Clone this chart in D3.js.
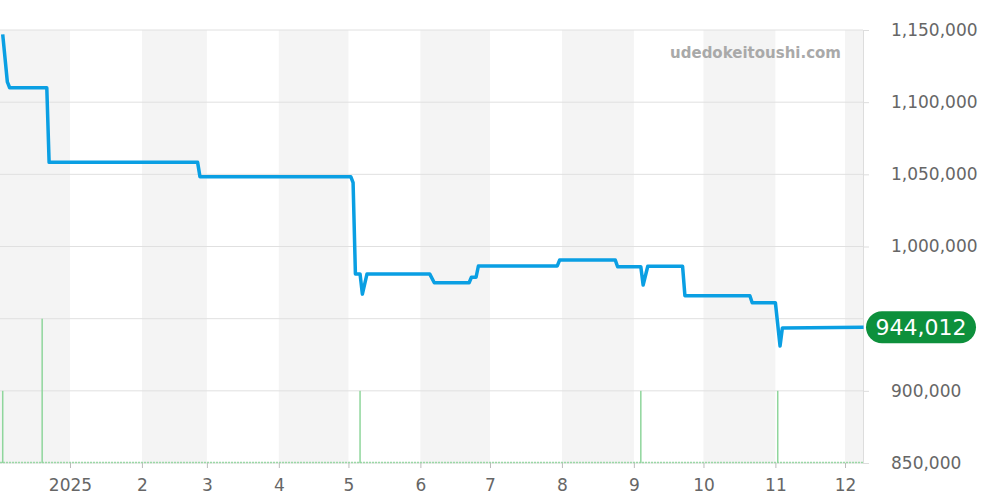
<!DOCTYPE html>
<html>
<head>
<meta charset="utf-8">
<script src="https://d3js.org/d3.v7.min.js"></script>
<style>
  body { margin: 0; background: #fff; }
  svg text { font-family: "DejaVu Sans", sans-serif; }
</style>
</head>
<body>
<svg id="chart"></svg>
<script>
// price history (date, yen)
var priceDates = [
  "2024-12-03", "2024-12-05", "2024-12-06", "2024-12-22", "2024-12-23",
  "2025-02-25", "2025-02-26", "2025-05-02", "2025-05-03", "2025-05-04",
  "2025-05-06", "2025-05-07", "2025-05-09", "2025-06-05", "2025-06-07",
  "2025-06-22", "2025-06-23", "2025-06-25", "2025-06-26", "2025-07-30",
  "2025-07-31", "2025-08-24", "2025-08-25", "2025-09-04", "2025-09-05",
  "2025-09-07", "2025-09-22", "2025-09-23", "2025-10-21", "2025-10-22",
  "2025-11-01", "2025-11-03", "2025-11-04", "2025-12-09"
];
var priceValues = [
  1147000, 1114000, 1110000, 1110000, 1058300,
  1058300, 1048400, 1048400, 1044200, 981000,
  981000, 967000, 981000, 981000, 974900,
  974900, 978700, 978700, 986500, 986500,
  990600, 990600, 986000, 986000, 973300,
  986300, 986300, 965900, 965900, 961000,
  961000, 931100, 943500, 944012
];
// trade counts
var volumeDates = ["2024-12-03", "2024-12-20", "2025-05-06", "2025-09-04", "2025-11-02"];
var volumeValues = [1, 2, 1, 1, 1];

var yTicks = [850000, 900000, 950000, 1000000, 1050000, 1100000, 1150000];
var yLabelTicks = [850000, 900000, 1000000, 1050000, 1100000, 1150000];
var monthLabels = ["2025", "2", "3", "4", "5", "6", "7", "8", "9", "10", "11", "12"];
var lastPrice = 944012;

var width = 1000, height = 500;
var margin = { top: 30, right: 137, bottom: 37, left: 0 };
var plotW = width - margin.left - margin.right;
var plotH = height - margin.top - margin.bottom;

var parse = d3.timeParse("%Y-%m-%d");
var svg = d3.select("#chart").attr("width", width).attr("height", height);
var g = svg.append("g").attr("transform", "translate(" + margin.left + "," + margin.top + ")");

var x = d3.scaleTime()
  .domain([new Date(2024, 11, 1, 20), new Date(2025, 11, 8, 18)])
  .range([0, plotW]);
var y = d3.scaleLinear().domain([850000, 1150000]).range([plotH, 0]);
var yVol = d3.scaleLinear().domain([0, 6]).range([plotH, 0]);

// alternating month bands
var months = d3.timeMonth.range(new Date(2024, 11, 1), new Date(2026, 0, 1));
months.forEach(function (m, i) {
  if (i % 2 !== 0) return;
  var x0 = Math.max(0, x(m)), x1 = Math.min(plotW, x(d3.timeMonth.offset(m, 1)));
  g.append("rect").attr("x", x0).attr("y", 0)
    .attr("width", x1 - x0).attr("height", plotH).attr("fill", "#f4f4f4");
});

// horizontal grid + right axis
var yAxis = g.append("g").attr("transform", "translate(" + plotW + ",0)")
  .call(d3.axisRight(y).tickValues(yLabelTicks).tickSize(6).tickPadding(22)
    .tickFormat(d3.format(",")));
yAxis.select(".domain").attr("stroke", "#ddd");
yAxis.selectAll(".tick line").attr("stroke", "#ddd");
yAxis.selectAll(".tick text").attr("fill", "#666").attr("font-size", 17);
g.append("g").selectAll("line").data(yTicks).enter().append("line")
  .attr("x1", 0).attr("x2", plotW)
  .attr("y1", function (d) { return y(d); }).attr("y2", function (d) { return y(d); })
  .attr("stroke", "#e0e0e0");

// bottom axis
var monthTicks = d3.timeMonth.range(new Date(2025, 0, 1), new Date(2025, 11, 2));
var xAxis = g.append("g").attr("transform", "translate(0," + plotH + ")")
  .call(d3.axisBottom(x).tickValues(monthTicks).tickSize(5).tickPadding(11)
    .tickFormat(function (d, i) { return monthLabels[i]; }));
xAxis.select(".domain").remove();
xAxis.selectAll(".tick line").attr("stroke", "#bbb");
xAxis.selectAll(".tick text").attr("fill", "#666").attr("font-size", 17);

// volume baseline + bars
g.append("line").attr("x1", 0).attr("x2", plotW)
  .attr("y1", plotH - 0.5).attr("y2", plotH - 0.5)
  .attr("stroke", "#9bd8a6").attr("stroke-width", 1.5).attr("stroke-dasharray", "2,1");
g.selectAll(".vol").data(volumeDates).enter().append("rect")
  .attr("class", "vol")
  .attr("x", function (d) { return x(parse(d)) - 0.75; })
  .attr("y", function (d, i) { return yVol(volumeValues[i]); })
  .attr("width", 1.5)
  .attr("height", function (d, i) { return plotH - yVol(volumeValues[i]); })
  .attr("fill", "#8fd69c");

// price line
var line = d3.line()
  .x(function (d) { return x(parse(d)); })
  .y(function (d, i) { return y(priceValues[i]); });
g.append("path").datum(priceDates)
  .attr("d", line)
  .attr("fill", "none").attr("stroke", "#0a9fe3")
  .attr("stroke-width", 3.5).attr("stroke-linejoin", "round");

// watermark
g.append("text").attr("x", plotW - 22).attr("y", 28)
  .attr("text-anchor", "end").attr("font-size", 15).attr("font-weight", "bold")
  .attr("fill", "#a9a9a9").text("udedokeitoushi.com");

// last price badge
var by = y(lastPrice);
g.append("rect").attr("x", plotW + 3).attr("y", by - 16)
  .attr("width", 110).attr("height", 32).attr("rx", 16)
  .attr("fill", "#0d903c");
g.append("text").attr("x", plotW + 58).attr("y", by + 8)
  .attr("text-anchor", "middle").attr("font-size", 22).attr("fill", "#fff")
  .text(d3.format(",")(lastPrice));
</script>
</body>
</html>
